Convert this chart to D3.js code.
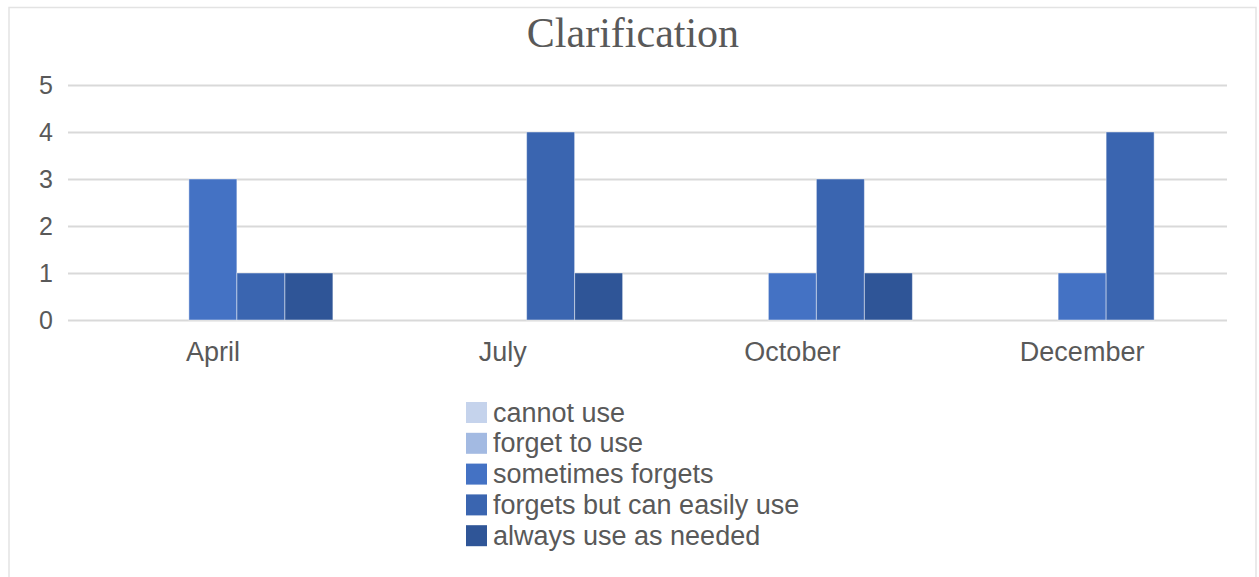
<!DOCTYPE html>
<html><head><meta charset="utf-8">
<script src="https://cdn.jsdelivr.net/npm/d3@7"></script>
<style>body{margin:0;background:#fff;}svg{display:block;}</style>
</head><body>
<script>
const categories = ["April","July","October","December"];
const seriesNames = ["cannot use","forget to use","sometimes forgets","forgets but can easily use","always use as needed"];
const cannotUse = [0,0,0,0];
const forgetToUse = [0,0,0,0];
const sometimesForgets = [3,0,1,1];
const forgetsButCanUse = [1,4,3,4];
const alwaysUse = [1,1,1,0];
const seriesValues = [cannotUse, forgetToUse, sometimesForgets, forgetsButCanUse, alwaysUse];
const colors = ["#c5d3ec","#a3bae2","#4472c4","#3a65b0","#2f5597"];
const yTicks = [0,1,2,3,4,5];

(function(){
const W=1259,H=577;
const FONT="Liberation Sans, Arial, sans-serif";
const svg=d3.select("body").append("svg").attr("width",W).attr("height",H);
svg.append("rect").attr("x",9).attr("y",7.5).attr("width",1247).attr("height",600)
  .attr("fill","#fff").attr("stroke","#e3e3e3").attr("stroke-width",1.5);

const pL=68,pR=1227,pT=85,pB=320;
const x0=d3.scaleBand().domain(categories).range([pL,pR]).padding(0);
const x1=d3.scaleBand().domain(seriesNames).range([0,x0.bandwidth()]).paddingInner(0).paddingOuter(0.518);
const y=d3.scaleLinear().domain([0,5]).range([pB,pT]);

svg.append("text").attr("x",633).attr("y",47).attr("text-anchor","middle")
  .attr("font-family","Liberation Serif, Times New Roman, serif").attr("font-size",42)
  .attr("fill","#595959").text("Clarification");

const yAxis=d3.axisLeft(y).tickValues(yTicks).tickSize(-(pR-pL)).tickFormat(d3.format("d"));
const gy=svg.append("g").attr("transform",`translate(${pL},0)`).call(yAxis);
gy.select(".domain").remove();
gy.selectAll(".tick line").attr("stroke","#d9d9d9").attr("stroke-width",2);
gy.selectAll(".tick text").attr("x",-15).attr("fill","#595959")
  .attr("font-family",FONT).attr("font-size",25);

const groups=svg.append("g").selectAll("g").data(categories).join("g")
  .attr("transform",d=>`translate(${x0(d)},0)`);
groups.selectAll("rect").data((c,ci)=>seriesNames.map((s,si)=>({s,si,v:seriesValues[si][ci]})))
  .join("rect")
  .attr("x",d=>x1(d.s)).attr("width",x1.bandwidth())
  .attr("y",d=>y(d.v)).attr("height",d=>y(0)-y(d.v))
  .attr("fill",d=>colors[d.si]).attr("stroke","rgba(255,255,255,0.45)").attr("stroke-width",1)
  .style("display",d=>d.v>0?null:"none");

const xAxis=d3.axisBottom(x0).tickSize(0).tickPadding(0);
const gx=svg.append("g").attr("transform",`translate(0,${pB})`).call(xAxis);
gx.select(".domain").remove();
gx.selectAll(".tick text").attr("dy",null).attr("y",41).attr("fill","#595959")
  .attr("font-family",FONT).attr("font-size",27);

const lg=svg.append("g").attr("transform","translate(466,0)");
const items=lg.selectAll("g").data(seriesNames).join("g")
  .attr("transform",(d,i)=>`translate(0,${412+i*30.8})`);
items.append("rect").attr("x",0).attr("y",-10).attr("width",21).attr("height",21)
  .attr("fill",(d,i)=>colors[i]);
items.append("text").attr("x",27).attr("y",9.5).attr("fill","#595959")
  .attr("font-family",FONT).attr("font-size",27).text(d=>d);
})();
</script>
</body></html>
